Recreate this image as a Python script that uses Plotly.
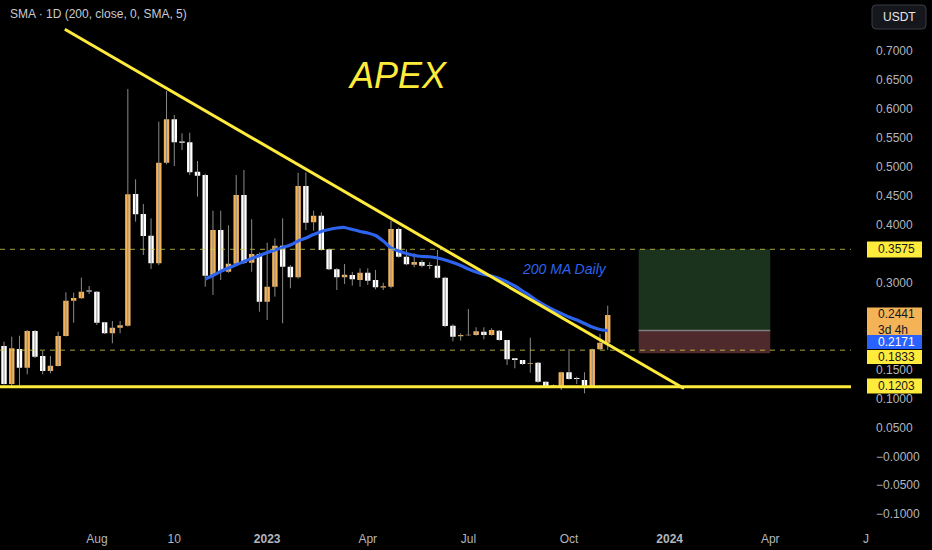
import plotly.graph_objects as go
import pandas as pd

# ---------------- data ----------------
first_week = "2022-05-09"
opens = [0.1905, 0.1249, 0.1853, 0.1530, 0.2164, 0.1732, 0.1473, 0.1560, 0.2078, 0.2687,
         0.2730, 0.2862, 0.2843, 0.2314, 0.2124, 0.2221, 0.2256, 0.4530, 0.4185, 0.3810,
         0.3333, 0.5071, 0.5820, 0.5435, 0.5423, 0.4915, 0.4858, 0.3119, 0.3908, 0.3188,
         0.3327, 0.4513, 0.3344, 0.3494, 0.2670, 0.2929, 0.3637, 0.3275, 0.3091, 0.4668,
         0.4041, 0.4156, 0.3575, 0.3230, 0.3091, 0.3131, 0.3045, 0.3171, 0.3045, 0.2915,
         0.2929, 0.3926, 0.3447, 0.3310, 0.3356, 0.3300, 0.3293, 0.3085, 0.2256, 0.2073,
         0.2090, 0.2095, 0.2152, 0.2095, 0.2170, 0.2009, 0.1692, 0.1663, 0.1600, 0.1617,
         0.1288, 0.1212, 0.1214, 0.1451, 0.1352, 0.1318, 0.1214, 0.1848, 0.1962]
highs = [0.1979, 0.2066, 0.2083, 0.2180, 0.2180, 0.1819, 0.1732, 0.2152, 0.2832, 0.2826,
         0.3085, 0.2941, 0.2850, 0.2320, 0.2337, 0.2337, 0.6344, 0.4784, 0.4358, 0.4110,
         0.5779, 0.6309, 0.5895, 0.5579, 0.5589, 0.5100, 0.4880, 0.4242, 0.4242, 0.3990,
         0.4858, 0.4945, 0.4093, 0.3520, 0.3689, 0.3765, 0.4110, 0.3300, 0.4899, 0.4900,
         0.4242, 0.4214, 0.3590, 0.3250, 0.3321, 0.3183, 0.3247, 0.3247, 0.3218, 0.2998,
         0.4064, 0.3950, 0.3575, 0.3506, 0.3390, 0.3350, 0.3563, 0.3100, 0.2280, 0.2124,
         0.2544, 0.2228, 0.2228, 0.2210, 0.2181, 0.2010, 0.1692, 0.1663, 0.2048, 0.1630,
         0.1290, 0.1240, 0.1460, 0.1853, 0.1375, 0.1451, 0.1860, 0.2112, 0.2601]
lows = [0.1240, 0.1220, 0.1220, 0.1416, 0.1698, 0.1416, 0.1434, 0.1550, 0.2070, 0.2307,
        0.2720, 0.2803, 0.2268, 0.2112, 0.1952, 0.2124, 0.2240, 0.4052, 0.3477, 0.3235,
        0.3304, 0.5043, 0.5014, 0.5290, 0.4858, 0.4484, 0.2929, 0.2786, 0.3045, 0.3170,
        0.3300, 0.3320, 0.3188, 0.2498, 0.2354, 0.2757, 0.2297, 0.2902, 0.3070, 0.3908,
        0.3896, 0.3550, 0.3215, 0.2872, 0.2976, 0.2947, 0.2929, 0.2959, 0.2884, 0.2872,
        0.2900, 0.3430, 0.3300, 0.3264, 0.3264, 0.3235, 0.3070, 0.2230, 0.1986, 0.1997,
        0.2083, 0.2083, 0.2021, 0.2083, 0.1997, 0.1577, 0.1520, 0.1580, 0.1444, 0.1270,
        0.1200, 0.1205, 0.1145, 0.1325, 0.1249, 0.1088, 0.1205, 0.1836, 0.1836]
closes = [0.1249, 0.1865, 0.1530, 0.2164, 0.1720, 0.1473, 0.1565, 0.2078, 0.2687, 0.2734,
          0.2843, 0.2845, 0.2307, 0.2124, 0.2221, 0.2262, 0.4525, 0.4180, 0.3805, 0.3333,
          0.5071, 0.5820, 0.5423, 0.5415, 0.4905, 0.4846, 0.3119, 0.3908, 0.3188, 0.3327,
          0.4513, 0.3344, 0.3494, 0.2670, 0.2929, 0.3637, 0.3275, 0.3091, 0.4668, 0.4035,
          0.4156, 0.3563, 0.3230, 0.3091, 0.3137, 0.3057, 0.3171, 0.3033, 0.2919, 0.2935,
          0.3926, 0.3447, 0.3316, 0.3356, 0.3293, 0.3285, 0.3085, 0.2250, 0.2066, 0.2095,
          0.2100, 0.2159, 0.2095, 0.2181, 0.2009, 0.1675, 0.1663, 0.1594, 0.1612, 0.1288,
          0.1214, 0.1225, 0.1451, 0.1335, 0.1337, 0.1220, 0.1848, 0.1962, 0.2441]
sma_200d = [None] * 26 + [
    0.3062, 0.3123, 0.3193, 0.3252, 0.3307, 0.3366, 0.3418, 0.3468, 0.3520, 0.3563,
    0.3606, 0.3649, 0.3718, 0.3770, 0.3831, 0.3883, 0.3917, 0.3943, 0.3952, 0.3917,
    0.3883, 0.3857, 0.3813, 0.3718, 0.3598, 0.3546, 0.3503, 0.3468, 0.3451, 0.3446,
    0.3425, 0.3390, 0.3347, 0.3295, 0.3235, 0.3183, 0.3140, 0.3114, 0.3071, 0.3010,
    0.2941, 0.2855, 0.2769, 0.2674, 0.2596, 0.2527, 0.2466, 0.2406, 0.2354, 0.2294,
    0.2233, 0.2190, 0.2171]

trend_dates = ["2022-07-03", "2024-01-14"]
trend_prices = [0.7375, 0.1170]
support_level = 0.1203
dashed_levels = [0.3575, 0.1833]
position_dates = ["2023-12-04", "2024-04-01"]
position_target, position_entry, position_stop = 0.3575, 0.2171, 0.1779

x_tick_dates = ["2022-08-01", "2022-10-10", "2023-01-02", "2023-04-03", "2023-07-03",
                "2023-10-02", "2024-01-01", "2024-04-01"]
x_tick_text = ["Aug", "10", "<b>2023</b>", "Apr", "Jul", "Oct", "<b>2024</b>", "Apr"]
# 0.35, 0.25 and 0.20 are covered by the price tags in the original
y_tick_vals = [0.70, 0.65, 0.60, 0.55, 0.50, 0.45, 0.40, 0.30,
               0.15, 0.10, 0.05, 0.0, -0.05, -0.10]
y_tick_text = ["0.7000", "0.6500", "0.6000", "0.5500", "0.5000", "0.4500", "0.4000",
               "0.3000", "0.1500", "0.1000", "0.0500",
               "\u22120.0000", "\u22120.0500", "\u22120.1000"]

dates = pd.date_range(first_week, periods=len(opens), freq="7D")

# ---------------- style ----------------
BG = "#000000"
UP = "#F5B358"
DOWN = "#FFFFFF"
WICK = "#8a8a8a"
YELLOW = "#FFEB3B"
BLUE = "#2E63EE"
AXIS_TXT = "#b2b5be"

W, H = 932, 550
PW, PH = 851, 527  # plot area size in px


def px(x):
    return x / PW


def py(y):
    return 1 - y / PH


fig = go.Figure()

# wicks
wx, wy = [], []
for d, lo, hi in zip(dates, lows, highs):
    wx += [d, d, None]
    wy += [lo, hi, None]
fig.add_trace(go.Scatter(x=wx, y=wy, mode="lines", line=dict(color=WICK, width=1),
                         hoverinfo="skip"))

# 200 MA
fig.add_trace(go.Scatter(x=dates, y=sma_200d, mode="lines",
                         line=dict(color=BLUE, width=3.2, shape="spline", smoothing=0.6),
                         connectgaps=False, hoverinfo="skip"))

# candles (bodies)
fig.add_trace(go.Candlestick(
    x=dates, open=opens, high=highs, low=lows, close=closes,
    increasing=dict(fillcolor=UP, line=dict(color=UP, width=0)),
    decreasing=dict(fillcolor=DOWN, line=dict(color=DOWN, width=0)),
    whiskerwidth=0, hoverinfo="skip"))

# trend line
fig.add_trace(go.Scatter(x=trend_dates, y=trend_prices, mode="lines",
                         line=dict(color=YELLOW, width=3), hoverinfo="skip"))

shapes = []
# position box
shapes.append(dict(type="rect", xref="x", yref="y", x0=position_dates[0], x1=position_dates[1],
                   y0=position_entry, y1=position_target, fillcolor="#1b331c",
                   line=dict(width=0), layer="below"))
shapes.append(dict(type="rect", xref="x", yref="y", x0=position_dates[0], x1=position_dates[1],
                   y0=position_stop, y1=position_entry, fillcolor="#4e2a2d",
                   line=dict(width=0), layer="below"))
shapes.append(dict(type="line", xref="x", yref="y", x0=position_dates[0], x1=position_dates[1],
                   y0=position_entry, y1=position_entry, line=dict(color="#7d7d7d", width=1.5),
                   layer="below"))
# dashed levels
for lv in dashed_levels:
    shapes.append(dict(type="line", xref="paper", yref="y", x0=0, x1=1, y0=lv, y1=lv,
                       line=dict(color="rgba(205,205,80,0.8)", width=1, dash="5px,5px"),
                       layer="above"))
# support line
shapes.append(dict(type="line", xref="paper", yref="y", x0=0, x1=1, y0=support_level,
                   y1=support_level, line=dict(color=YELLOW, width=3), layer="above"))

# price tags on the right scale (pixel geometry)
tags = [
    ("0.3575", 249.5, 16, YELLOW, "#131722"),
    ("0.2441<br>3d 4h", 321.5, 28, "#F5B358", "#131722"),
    ("0.2171", 342.0, 14, "#2962FF", "#ffffff"),
    ("0.1833", 357.0, 14, YELLOW, "#131722"),
    ("0.1203", 386.0, 15, YELLOW, "#131722"),
]
annotations = []
for txt, cy, h, bg, fg in tags:
    shapes.append(dict(type="rect", xref="paper", yref="paper", x0=px(867), x1=px(922),
                       y0=py(cy + h / 2), y1=py(cy - h / 2), fillcolor=bg,
                       line=dict(width=0), layer="above"))
    annotations.append(dict(xref="paper", yref="paper", x=px(876), y=py(cy), xanchor="left",
                            yanchor="middle", text=txt, showarrow=False, align="left",
                            font=dict(family="Liberation Sans", size=12, color=fg)))

# USDT button
bx0, bx1, by0, by1, r = 872, 926, 5, 29, 4
path = (f"M {px(bx0 + r)},{py(by0)} L {px(bx1 - r)},{py(by0)} Q {px(bx1)},{py(by0)} {px(bx1)},{py(by0 + r)} "
        f"L {px(bx1)},{py(by1 - r)} Q {px(bx1)},{py(by1)} {px(bx1 - r)},{py(by1)} "
        f"L {px(bx0 + r)},{py(by1)} Q {px(bx0)},{py(by1)} {px(bx0)},{py(by1 - r)} "
        f"L {px(bx0)},{py(by0 + r)} Q {px(bx0)},{py(by0)} {px(bx0 + r)},{py(by0)} Z")
shapes.append(dict(type="path", xref="paper", yref="paper", path=path, fillcolor="#15171d",
                   line=dict(color="#3a3d45", width=1), layer="above"))
annotations.append(dict(xref="paper", yref="paper", x=px(899), y=py(17), xanchor="center",
                        yanchor="middle", text="USDT", showarrow=False,
                        font=dict(family="Liberation Sans", size=12, color="#e6e6e6")))

# texts
annotations += [
    dict(xref="paper", yref="paper", x=px(8), y=py(14.5), xanchor="left", yanchor="middle",
         text="SMA \u00b7 1D (200, close, 0, SMA, 5)", showarrow=False,
         font=dict(family="Liberation Sans", size=12, color="#c8cad0")),
    dict(xref="paper", yref="paper", x=px(398), y=py(75), xanchor="center", yanchor="middle",
         text="<i>APEX</i>", showarrow=False,
         font=dict(family="Liberation Sans", size=36, color=YELLOW)),
    dict(xref="paper", yref="paper", x=px(564), y=py(269), xanchor="center", yanchor="middle",
         text="<i>200 MA Daily</i>", showarrow=False,
         font=dict(family="Liberation Sans", size=14, color=BLUE)),
    dict(xref="paper", yref="paper", x=px(866), y=py(539), xanchor="center", yanchor="middle",
         text="J", showarrow=False,
         font=dict(family="Liberation Sans", size=12, color=AXIS_TXT)),
]

fig.update_layout(
    width=W, height=H,
    margin=dict(l=0, r=W - PW, t=0, b=H - PH, pad=0),
    paper_bgcolor=BG, plot_bgcolor=BG,
    showlegend=False,
    boxgap=0.3, boxgroupgap=0,
    shapes=shapes, annotations=annotations,
    xaxis=dict(type="date", range=["2022-05-05 09:10", "2024-06-13 00:45"],
               rangeslider=dict(visible=False), showgrid=False, zeroline=False,
               showline=False, ticks="", tickvals=x_tick_dates, ticktext=x_tick_text,
               tickfont=dict(family="Liberation Sans", size=12, color=AXIS_TXT),
               ticklabelstandoff=3),
    yaxis=dict(side="right", range=[-0.12211, 0.78808], showgrid=False, zeroline=False,
               showline=False, ticks="", tickvals=y_tick_vals, ticktext=y_tick_text,
               tickfont=dict(family="Liberation Sans", size=12, color=AXIS_TXT),
               ticklabelstandoff=24),
)

fig.write_html(
    "out.html",
    config={"displayModeBar": False},
    post_script=("document.documentElement.style.background='#000';"
                 "document.body.style.margin='0';document.body.style.background='#000';"
                 "document.body.style.overflow='hidden';"),
)
